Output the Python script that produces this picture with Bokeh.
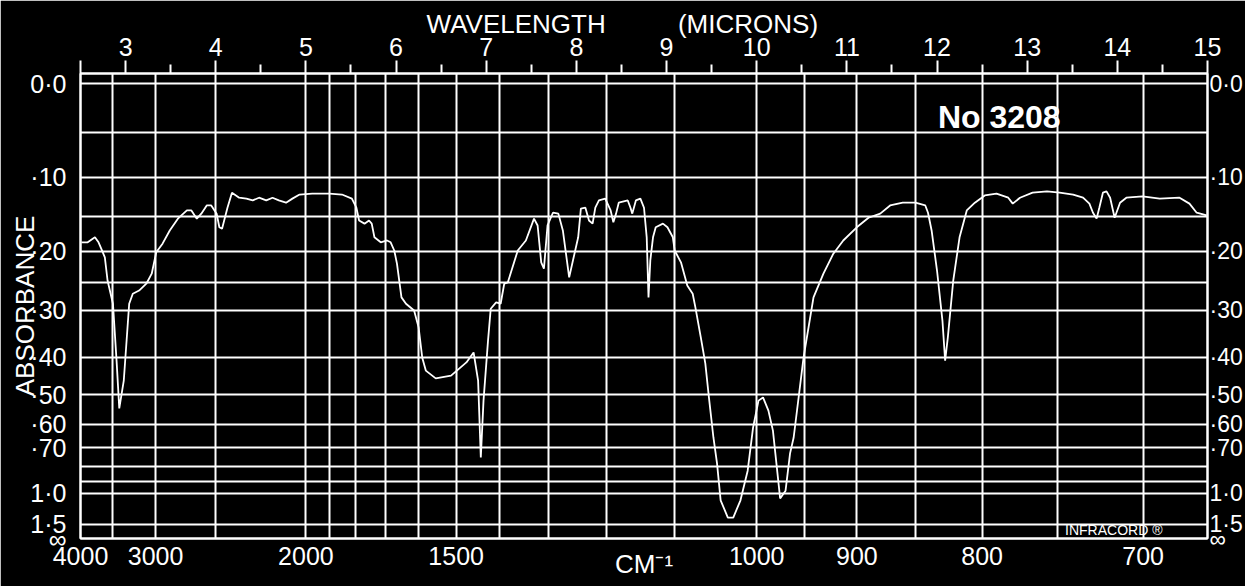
from bokeh.plotting import figure
from bokeh.models import Range1d, FixedTicker, LinearAxis, Label
from bokeh.embed import file_html
from bokeh.resources import INLINE

# ---- spectrum: wavelength (microns) and transmittance (%) ----
wavelength_um = [
    2.51, 2.58, 2.66, 2.70, 2.73, 2.77, 2.80, 2.86, 2.90, 2.93,
    2.98, 3.04, 3.08, 3.15, 3.23, 3.29, 3.34, 3.41, 3.49, 3.58,
    3.68, 3.73, 3.79, 3.84, 3.90, 3.95, 4.01, 4.04, 4.07, 4.13,
    4.18, 4.26, 4.34, 4.41, 4.48, 4.56, 4.63, 4.70, 4.78, 4.85,
    4.93, 5.07, 5.26, 5.40, 5.51, 5.56, 5.59, 5.65, 5.70, 5.73,
    5.76, 5.83, 5.90, 5.94, 5.98, 6.01, 6.06, 6.11, 6.20, 6.25,
    6.29, 6.33, 6.44, 6.61, 6.78, 6.86, 6.91, 6.94, 6.97, 7.02,
    7.05, 7.11, 7.16, 7.20, 7.24, 7.35, 7.44, 7.53, 7.57, 7.61,
    7.64, 7.68, 7.74, 7.80, 7.85, 7.92, 7.97, 8.02, 8.05, 8.10,
    8.14, 8.18, 8.21, 8.25, 8.32, 8.38, 8.41, 8.44, 8.47, 8.57,
    8.60, 8.62, 8.66, 8.71, 8.75, 8.78, 8.80, 8.82, 8.85, 8.88,
    8.96, 9.01, 9.07, 9.09, 9.16, 9.23, 9.29, 9.32, 9.38, 9.43,
    9.47, 9.52, 9.56, 9.60, 9.68, 9.74, 9.82, 9.90, 9.96, 10.02,
    10.07, 10.13, 10.18, 10.26, 10.32, 10.37, 10.41, 10.52, 10.63, 10.74,
    10.85, 10.96, 11.11, 11.24, 11.37, 11.48, 11.62, 11.76, 11.87, 11.90,
    11.94, 12.00, 12.06, 12.09, 12.12, 12.18, 12.25, 12.33, 12.42, 12.53,
    12.66, 12.79, 12.84, 12.92, 13.06, 13.22, 13.36, 13.51, 13.62, 13.69,
    13.73, 13.77, 13.80, 13.84, 13.88, 13.92, 13.97, 14.03, 14.10, 14.28,
    14.47, 14.69, 14.80, 14.88, 14.99,
]
transmittance_pct = [
    65.1, 65.1, 66.2, 65.1, 63.7, 61.8, 56.7, 51.6, 39.1, 28.6,
    34.7, 51.6, 53.8, 54.5, 56.0, 58.2, 62.9, 64.8, 67.7, 70.3,
    72.1, 72.1, 70.3, 71.4, 73.2, 73.2, 71.4, 68.4, 68.1, 72.7,
    76.0, 74.9, 74.7, 74.3, 74.9, 74.3, 74.9, 74.3, 73.8, 74.7,
    75.6, 75.8, 75.8, 75.6, 74.7, 72.7, 69.9, 69.2, 69.9, 69.2,
    66.2, 65.1, 65.5, 65.1, 63.3, 60.4, 53.0, 51.6, 50.1, 46.4,
    39.8, 36.9, 35.2, 35.8, 38.7, 40.9, 34.7, 17.8, 30.3, 43.5,
    50.5, 51.9, 51.6, 56.0, 56.3, 63.3, 65.5, 70.3, 68.8, 60.7,
    59.3, 68.8, 71.6, 71.4, 67.7, 57.4, 61.8, 66.2, 72.5, 72.7,
    69.9, 69.2, 72.7, 74.3, 74.7, 72.1, 69.5, 71.4, 73.8, 74.3,
    72.7, 71.4, 74.3, 74.7, 72.7, 66.2, 53.0, 61.1, 66.2, 68.4,
    69.2, 68.4, 66.2, 63.3, 60.7, 55.6, 53.8, 50.8, 44.2, 38.5,
    31.0, 22.2, 16.5, 8.4, 4.6, 4.6, 8.4, 14.9, 24.4, 30.3,
    31.0, 28.1, 23.7, 8.8, 10.5, 18.7, 22.2, 39.8, 53.0, 58.2,
    62.6, 65.5, 68.4, 70.5, 71.4, 73.2, 73.8, 73.8, 73.2, 71.6,
    67.7, 58.9, 47.9, 39.1, 44.2, 56.7, 66.2, 72.1, 73.8, 75.4,
    75.8, 74.9, 73.6, 74.9, 76.0, 76.3, 76.0, 75.6, 74.9, 73.6,
    71.6, 70.3, 72.7, 76.0, 76.3, 74.9, 70.5, 73.8, 74.9, 75.2,
    74.7, 74.9, 73.6, 71.6, 71.0,
]

# ---- scales / ticks ----
wavelength_ticks = [2.5] + list(range(3, 16))
wavelength_minor = [w + 0.5 for w in range(3, 15)]
wavenumber_labels = [4000, 3000, 2000, 1500, 1000, 900, 800, 700]
wavenumber_grid = [3500, 3000, 2500, 2000, 1900, 1800, 1700, 1600, 1500, 1400,
                   1300, 1200, 1100, 1000, 950, 900, 850, 800, 750, 700]
absorbance_labels = [0.0, 0.1, 0.2, 0.3, 0.4, 0.5, 0.6, 0.7, 1.0, 1.5]
absorbance_label_text = ["0·0", "·10", "·20", "·30", "·40", "·50", "·60", "·70", "1·0", "1·5"]
absorbance_grid = [0.0, 0.05, 0.1, 0.15, 0.2, 0.25, 0.3, 0.4, 0.5, 0.6, 0.7, 0.8, 0.9, 1.0, 1.5]


def to_T(a):
    return 100.0 * 10 ** (-a)


WHITE = "#ffffff"
FONT = "Liberation Sans"
NB = "\u00a0"

p = figure(width=1245, height=586, x_range=Range1d(2.5, 15.0), y_range=Range1d(0, 102.2),
           output_backend="svg", toolbar_location=None,
           min_border_left=80, min_border_right=36, min_border_top=73, min_border_bottom=48)
p.background_fill_color = "black"
p.border_fill_color = "black"
p.outline_line_color = WHITE
p.outline_line_width = 2

# grid
p.xgrid.ticker = FixedTicker(ticks=[1e4 / w for w in wavenumber_grid])
p.ygrid.ticker = FixedTicker(ticks=[to_T(a) for a in absorbance_grid])
for g in (p.xgrid, p.ygrid):
    g.grid_line_color = WHITE
    g.grid_line_width = 2
    g.grid_line_alpha = 1.0


def style_axis(ax, standoff, size="25px"):
    ax.axis_line_color = WHITE
    ax.axis_line_width = 2
    ax.major_label_text_color = WHITE
    ax.major_label_text_font = FONT
    ax.major_label_text_font_size = size
    ax.major_label_standoff = standoff
    ax.axis_label_text_color = WHITE
    ax.axis_label_text_font = FONT
    ax.axis_label_text_font_size = "26px"
    ax.axis_label_text_font_style = "normal"


# bottom axis: wavenumber
xpos = [1e4 / w for w in wavenumber_labels]
p.xaxis.ticker = FixedTicker(ticks=xpos)
p.xaxis.major_label_overrides = {x: str(w) for x, w in zip(xpos, wavenumber_labels)}
p.xaxis.major_tick_line_color = None
p.xaxis.minor_tick_line_color = None
style_axis(p.xaxis, 2)
p.xaxis.axis_label = "CM⁻¹"
p.xaxis.axis_label_standoff = -19

# left axis: absorbance labels on a linear transmittance scale
ypos = [to_T(a) for a in absorbance_labels] + [0.0]
ytext = absorbance_label_text + ["∞"]
p.yaxis.ticker = FixedTicker(ticks=ypos)
p.yaxis.major_label_overrides = {y: t for y, t in zip(ypos, ytext)}
p.yaxis.major_tick_line_color = None
p.yaxis.minor_tick_line_color = None
style_axis(p.yaxis, 8)
p.yaxis.axis_label = "ABSORBANCE"
p.yaxis.axis_label_standoff = -13

# right axis: same absorbance labels
right = LinearAxis(ticker=FixedTicker(ticks=ypos))
right.major_label_overrides = {y: t for y, t in zip(ypos, ytext)}
right.major_tick_line_color = None
right.minor_tick_line_color = None
style_axis(right, -4, "23px")
p.add_layout(right, "right")

# top axis: wavelength in microns
top = LinearAxis(ticker=FixedTicker(ticks=wavelength_ticks, minor_ticks=wavelength_minor))
top.major_label_overrides = {2.5: ""}
top.major_tick_line_color = WHITE
top.major_tick_line_width = 2
top.major_tick_in = 0
top.major_tick_out = 13
top.minor_tick_line_color = WHITE
top.minor_tick_line_width = 2
top.minor_tick_in = 0
top.minor_tick_out = 9
style_axis(top, 5)
top.axis_label = "WAVELENGTH" + NB * 10 + "(MICRONS)" + NB * 6
top.axis_label_standoff = -4
p.add_layout(top, "above")

# spectrum trace
p.line(wavelength_um, transmittance_pct, line_color=WHITE, line_width=1.8)

# in-frame annotations
p.add_layout(Label(x=12.01, y=92.7, text="No 3208", text_color=WHITE,
                   text_font=FONT, text_font_size="32px", text_font_style="bold",
                   text_align="left", text_baseline="middle"))
p.add_layout(Label(x=13.42, y=1.8, text="INFRACORD ®", text_color=WHITE,
                   text_font=FONT, text_font_size="14px",
                   text_align="left", text_baseline="middle"))

open("out.html", "w").write(file_html(p, INLINE))
